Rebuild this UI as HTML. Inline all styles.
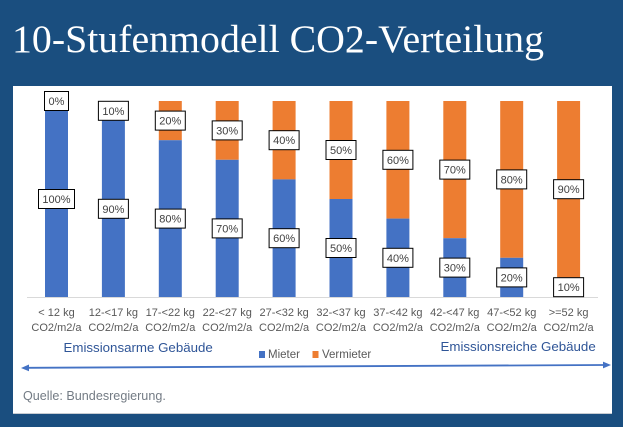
<!DOCTYPE html>
<html><head><meta charset="utf-8"><style>
html,body{margin:0;padding:0;background:#1a4e7f;}
svg{display:block;}
</style></head><body>
<svg width="623" height="427" viewBox="0 0 623 427" xmlns="http://www.w3.org/2000/svg">
<rect x="0" y="0" width="623" height="427" fill="#1a4e7f"/>
<text x="12" y="52" font-family="Liberation Serif, serif" font-size="39.5" fill="#ffffff" textLength="532" lengthAdjust="spacingAndGlyphs">10-Stufenmodell CO2-Verteilung</text>
<rect x="13" y="86" width="599" height="328" fill="#ffffff"/>
<rect x="13" y="413" width="599" height="1" fill="#c8ccd2"/>
<line x1="27" y1="297.5" x2="598" y2="297.5" stroke="#d9d9d9" stroke-width="1"/>
<g>
<rect x="45" y="101" width="23" height="196" fill="#4472c4"/>
<rect x="101.9" y="101" width="23" height="19.6" fill="#ed7d31"/><rect x="101.9" y="120.6" width="23" height="176.4" fill="#4472c4"/>
<rect x="158.8" y="101" width="23" height="39.2" fill="#ed7d31"/><rect x="158.8" y="140.2" width="23" height="156.8" fill="#4472c4"/>
<rect x="215.7" y="101" width="23" height="58.8" fill="#ed7d31"/><rect x="215.7" y="159.8" width="23" height="137.2" fill="#4472c4"/>
<rect x="272.6" y="101" width="23" height="78.4" fill="#ed7d31"/><rect x="272.6" y="179.4" width="23" height="117.6" fill="#4472c4"/>
<rect x="329.5" y="101" width="23" height="98" fill="#ed7d31"/><rect x="329.5" y="199" width="23" height="98" fill="#4472c4"/>
<rect x="386.4" y="101" width="23" height="117.6" fill="#ed7d31"/><rect x="386.4" y="218.6" width="23" height="78.4" fill="#4472c4"/>
<rect x="443.3" y="101" width="23" height="137.2" fill="#ed7d31"/><rect x="443.3" y="238.2" width="23" height="58.8" fill="#4472c4"/>
<rect x="500.2" y="101" width="23" height="156.8" fill="#ed7d31"/><rect x="500.2" y="257.8" width="23" height="39.2" fill="#4472c4"/>
<rect x="557.1" y="101" width="23" height="176.4" fill="#ed7d31"/><rect x="557.1" y="277.4" width="23" height="19.6" fill="#4472c4"/>
</g>
<g font-family="Liberation Sans, sans-serif" font-size="11" fill="#404040" text-anchor="middle">
<rect x="44.5" y="91.5" width="24" height="19" fill="#fff" stroke="#000"/><text x="56.5" y="105">0%</text>
<rect x="98.4" y="101.3" width="30" height="19" fill="#fff" stroke="#000"/><text x="113.4" y="114.8">10%</text>
<rect x="155.3" y="111.1" width="30" height="19" fill="#fff" stroke="#000"/><text x="170.3" y="124.6">20%</text>
<rect x="212.2" y="120.9" width="30" height="19" fill="#fff" stroke="#000"/><text x="227.2" y="134.4">30%</text>
<rect x="269.1" y="130.7" width="30" height="19" fill="#fff" stroke="#000"/><text x="284.1" y="144.2">40%</text>
<rect x="326" y="140.5" width="30" height="19" fill="#fff" stroke="#000"/><text x="341" y="154">50%</text>
<rect x="382.9" y="150.3" width="30" height="19" fill="#fff" stroke="#000"/><text x="397.9" y="163.8">60%</text>
<rect x="439.8" y="160.1" width="30" height="19" fill="#fff" stroke="#000"/><text x="454.8" y="173.6">70%</text>
<rect x="496.7" y="169.9" width="30" height="19" fill="#fff" stroke="#000"/><text x="511.7" y="183.4">80%</text>
<rect x="553.6" y="179.7" width="30" height="19" fill="#fff" stroke="#000"/><text x="568.6" y="193.2">90%</text>
<rect x="38.5" y="189.5" width="36" height="19" fill="#fff" stroke="#000"/><text x="56.5" y="203">100%</text>
<rect x="98.4" y="199.3" width="30" height="19" fill="#fff" stroke="#000"/><text x="113.4" y="212.8">90%</text>
<rect x="155.3" y="209.1" width="30" height="19" fill="#fff" stroke="#000"/><text x="170.3" y="222.6">80%</text>
<rect x="212.2" y="218.9" width="30" height="19" fill="#fff" stroke="#000"/><text x="227.2" y="232.4">70%</text>
<rect x="269.1" y="228.7" width="30" height="19" fill="#fff" stroke="#000"/><text x="284.1" y="242.2">60%</text>
<rect x="326" y="238.5" width="30" height="19" fill="#fff" stroke="#000"/><text x="341" y="252">50%</text>
<rect x="382.9" y="248.3" width="30" height="19" fill="#fff" stroke="#000"/><text x="397.9" y="261.8">40%</text>
<rect x="439.8" y="258.1" width="30" height="19" fill="#fff" stroke="#000"/><text x="454.8" y="271.6">30%</text>
<rect x="496.7" y="267.9" width="30" height="19" fill="#fff" stroke="#000"/><text x="511.7" y="281.4">20%</text>
<rect x="553.6" y="277.7" width="30" height="19" fill="#fff" stroke="#000"/><text x="568.6" y="291.2">10%</text>
</g>
<g font-family="Liberation Sans, sans-serif" font-size="11" fill="#595959" text-anchor="middle">
<text x="56.5" y="316">&lt; 12 kg</text><text x="56.5" y="331">CO2/m2/a</text>
<text x="113.4" y="316">12-&lt;17 kg</text><text x="113.4" y="331">CO2/m2/a</text>
<text x="170.3" y="316">17-&lt;22 kg</text><text x="170.3" y="331">CO2/m2/a</text>
<text x="227.2" y="316">22-&lt;27 kg</text><text x="227.2" y="331">CO2/m2/a</text>
<text x="284.1" y="316">27-&lt;32 kg</text><text x="284.1" y="331">CO2/m2/a</text>
<text x="341" y="316">32-&lt;37 kg</text><text x="341" y="331">CO2/m2/a</text>
<text x="397.9" y="316">37-&lt;42 kg</text><text x="397.9" y="331">CO2/m2/a</text>
<text x="454.8" y="316">42-&lt;47 kg</text><text x="454.8" y="331">CO2/m2/a</text>
<text x="511.7" y="316">47-&lt;52 kg</text><text x="511.7" y="331">CO2/m2/a</text>
<text x="568.6" y="316">&gt;=52 kg</text><text x="568.6" y="331">CO2/m2/a</text>
</g>
<g font-family="Liberation Sans, sans-serif" font-size="13.3" fill="#2f5597">
<text x="63.5" y="352">Emissionsarme Gebäude</text>
<text x="440.5" y="351">Emissionsreiche Gebäude</text>
</g>
<g font-family="Liberation Sans, sans-serif" font-size="11.5" fill="#595959">
<rect x="259" y="351" width="6" height="7" fill="#4472c4"/>
<text x="268" y="358">Mieter</text>
<rect x="312.5" y="351" width="6" height="7" fill="#ed7d31"/>
<text x="322" y="358">Vermieter</text>
</g>
<line x1="28" y1="367.8" x2="603" y2="365" stroke="#4472c4" stroke-width="1.8"/>
<polygon points="21,368 29,364.5 29,371.3" fill="#4472c4"/>
<polygon points="611,365 603,361.6 603,368.4" fill="#4472c4"/>
<text x="23" y="400" font-family="Liberation Sans, sans-serif" font-size="12.6" fill="#737b84">Quelle: Bundesregierung.</text>
</svg>
</body></html>
